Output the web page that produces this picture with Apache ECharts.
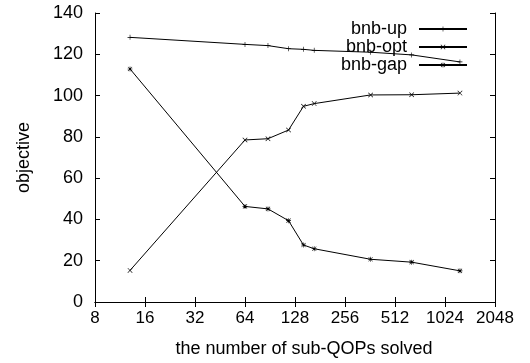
<!DOCTYPE html>
<html>
<head>
<meta charset="utf-8">
<script src="https://cdn.jsdelivr.net/npm/echarts@6/dist/echarts.min.js"></script>
<style>
  html, body { margin: 0; padding: 0; background: #fff; }
  #chart { width: 530px; height: 363px; }
</style>
</head>
<body>
<div id="chart"></div>
<script>
  // x: number of sub-QOPs solved
  var subQops = [13, 64, 88, 117, 144, 167, 365, 645, 1260];
  var bnbUp  = [128.2, 124.8, 124.2, 122.7, 122.4, 121.9, 121.0, 119.7, 116.3];
  var bnbOpt = [15.3, 78.5, 79.1, 83.3, 94.8, 96.1, 100.3, 100.4, 101.2];
  var bnbGap = [112.9, 46.3, 45.1, 39.4, 27.6, 25.8, 20.7, 19.3, 15.1];
  var yTicks = [0, 20, 40, 60, 80, 100, 120, 140];

  var font = 'Liberation Sans, Arial, sans-serif';

  // 标记
  var plusPath = 'path://M0,4.4h10v1.2h-10z M4.4,0h1.2v10h-1.2z';
  var crossPath = 'path://M0.4,1.2L1.2,0.4L9.6,8.8L8.8,9.6z M8.8,0.4L9.6,1.2L1.2,9.6L0.4,8.8z';
  var starPath = plusPath + ' ' + crossPath.replace('path://', '');

  function pairs(ys){
    return subQops.map(function(x, i){ return [x, ys[i]]; });
  }

  function lineSeries(name, ys, symbol, size){
    return {
      name: name,
      type: 'line',
      data: pairs(ys),
      symbol: symbol,
      symbolSize: size,
      showAllSymbol: true,
      lineStyle: { color: '#000', width: 1 },
      itemStyle: { color: '#000' },
      emphasis: { disabled: true },
      animation: false
    };
  }

  var axisCommon = {
    axisLine: { show: true, lineStyle: { color: '#000', width: 1 } },
    axisTick: { show: true, inside: true, length: 5, lineStyle: { color: '#000' } },
    splitLine: { show: false }
  };

  function logLabel(v){
    return String(Math.round(v));
  }

  var option = {
    backgroundColor: '#fff',
    animation: false,
    grid: { left: 95, right: 35, top: 13, bottom: 61 },
    legend: {
      orient: 'vertical',
      right: 57,
      top: 15,
      align: 'right',
      itemWidth: 48,
      itemHeight: 6,
      itemGap: 0,
      data: ['bnb-up', 'bnb-opt', 'bnb-gap'],
      textStyle: { fontFamily: font, fontSize: 18, lineHeight: 18, color: '#000', padding: [0, 7, 0, 0] }
    },
    xAxis: [
      Object.assign({
        type: 'log', logBase: 2, min: 8, max: 2048, interval: 1,
        name: 'the number of sub-QOPs solved', nameLocation: 'middle', nameGap: 38,
        nameTextStyle: { fontFamily: font, fontSize: 18, color: '#000', padding: [0, 0, 0, 18] },
        axisLabel: { fontFamily: font, fontSize: 17, color: '#000', margin: 8, formatter: logLabel }
      }, axisCommon),
      Object.assign({
        type: 'log', logBase: 2, min: 8, max: 2048, interval: 1, position: 'top',
        axisLabel: { show: false }
      }, axisCommon)
    ],
    yAxis: [
      Object.assign({
        type: 'value', min: yTicks[0], max: yTicks[yTicks.length - 1], interval: 20,
        name: 'objective', nameLocation: 'middle', nameGap: 62, nameRotate: 90,
        nameTextStyle: { fontFamily: font, fontSize: 18, color: '#000' },
        axisLabel: { fontFamily: font, fontSize: 18, color: '#000', margin: 12 }
      }, axisCommon),
      Object.assign({
        type: 'value', min: yTicks[0], max: yTicks[yTicks.length - 1], interval: 20, position: 'right',
        axisLabel: { show: false }
      }, axisCommon)
    ],
    series: [
      lineSeries('bnb-up', bnbUp, plusPath, 5),
      lineSeries('bnb-opt', bnbOpt, crossPath, 5),
      lineSeries('bnb-gap', bnbGap, starPath, 5)
    ]
  };

  var myChart = echarts.init(document.getElementById('chart'));
  myChart.setOption(option);
</script>
</body>
</html>
